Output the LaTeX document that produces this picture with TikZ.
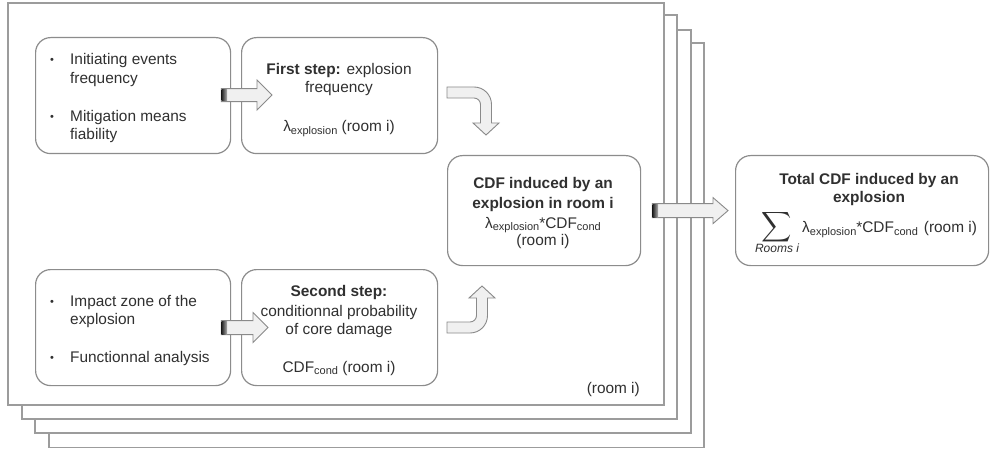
\documentclass[tikz,border=0pt]{standalone}
\usepackage{fontspec}
\setmainfont{Liberation Sans}
\usetikzlibrary{calc}
\definecolor{txt}{HTML}{303030}
\definecolor{boxline}{HTML}{8C8C8C}
\definecolor{pageline}{HTML}{9C9C9C}
\definecolor{arrfill}{HTML}{F0F0F0}
\definecolor{arrline}{HTML}{8A8A8A}
\newcommand\sub[1]{\raisebox{-2.5pt}{\fontsize{11}{11}\selectfont #1}}
\newcommand\blockarr[4]{%
  \draw[arrst] let \p1=(#1), \p2=(#2) in
    ({\x1},{\y1+#3}) -- ({\x2-15pt},{\y1+#3}) -- ({\x2-15pt},{\y1+#4}) -- ({\x2},{\y1})
    -- ({\x2-15pt},{\y1-#4}) -- ({\x2-15pt},{\y1-#3}) -- ({\x1},{\y1-#3}) -- cycle;
  \shade[left color=black!85, right color=black!30] let \p1=(#1) in
    ({\x1+0.5pt},{\y1-#3+0.6pt}) rectangle ({\x1+6pt},{\y1+#3-0.6pt});
}
\tikzset{
  page/.style={draw=pageline, line width=1.3pt, fill=white},
  rbox/.style={draw=boxline, line width=1.2pt, rounded corners=15pt, fill=white, inner sep=0pt, anchor=north west},
  lbl/.style={text=txt, font=\fontsize{15.4}{18}\selectfont, inner sep=0pt},
  bul/.style={text=txt, font=\fontsize{11}{11}\selectfont, inner sep=0pt, anchor=base},
  arrst/.style={draw=arrline, fill=arrfill, line width=0.9pt, line join=miter},
}
\begin{document}
\begin{tikzpicture}[x=1pt,y=-1pt]
\useasboundingbox (0,0) rectangle (990,449);
% stacked pages
\draw[page] (49,43) rectangle (704,447.5);
\draw[page] (35,30) rectangle (691,433);
\draw[page] (22,15) rectangle (677,419);
\draw[page] (8,3) rectangle (664,405);
\node[lbl, anchor=base east] (roomlbl) at (640,393) {(room i)};

% boxes
\node[rbox, minimum width=195pt, minimum height=116pt] (b1) at (35,37) {};
\node[rbox, minimum width=196pt, minimum height=116pt] (b2) at (241,37) {};
\node[rbox, minimum width=195pt, minimum height=116pt] (b3) at (35,269) {};
\node[rbox, minimum width=196pt, minimum height=116pt] (b4) at (241,269) {};
\node[rbox, minimum width=193pt, minimum height=110pt] (c) at (447,155) {};
\node[rbox, minimum width=253pt, minimum height=110pt] (t) at (735,155) {};

% box 1 text
\node[bul] (b1d1) at (52,64) {\textbullet};
\node[lbl, anchor=base west] (b1l1) at (70,65) {Initiating events};
\node[lbl, anchor=base west] (b1l2) at (70,84) {frequency};
\node[bul] (b1d2) at (52,121) {\textbullet};
\node[lbl, anchor=base west] (b1l3) at (70,122) {Mitigation means};
\node[lbl, anchor=base west] (b1l4) at (70,140) {fiability};

% box 2 text
\node[lbl, anchor=base] (b2l1) at (339,75) {\textbf{First step:} explosion};
\node[lbl, anchor=base] (b2l2) at (339,93) {frequency};
\node[lbl, anchor=base] (b2l3) at (339,132) {λ\sub{explosion} (room i)};

% box 3 text
\node[bul] (b3d1) at (52,305) {\textbullet};
\node[lbl, anchor=base west] (b3l1) at (70,306) {Impact zone of the};
\node[lbl, anchor=base west] (b3l2) at (70,324) {explosion};
\node[bul] (b3d2) at (52,361) {\textbullet};
\node[lbl, anchor=base west] (b3l3) at (70,362) {Functionnal analysis};

% box 4 text
\node[lbl, anchor=base] (b4l1) at (339,296) {\textbf{Second step:}};
\node[lbl, anchor=base] (b4l2) at (339,316) {conditionnal probability};
\node[lbl, anchor=base] (b4l3) at (339,334) {of core damage};
\node[lbl, anchor=base] (b4l4) at (339,372) {CDF\sub{cond} (room i)};

% centre box text
\node[lbl, anchor=base] (cl1) at (543,189) {\textbf{CDF induced by an}};
\node[lbl, anchor=base] (cl2) at (543,208) {\textbf{explosion in room i}};
\node[lbl, anchor=base] (cl3) at (543,228) {λ\sub{explosion}*CDF\sub{cond}};
\node[lbl, anchor=base] (cl4) at (543,245) {(room i)};

% total box text
\node[lbl, anchor=base] (tl1) at (869,185) {\textbf{Total CDF induced by an}};
\node[lbl, anchor=base] (tl2) at (869,203) {\textbf{explosion}};
\node[text=txt, inner sep=0pt] (tsum) at (777,227) {\scalebox{2.1}{$\displaystyle\sum$}};
\node[text=txt, inner sep=0pt, anchor=base, font=\fontsize{12}{12}\selectfont\rmfamily\itshape] (trooms) at (777,252) {Rooms i};
\node[lbl, anchor=base west] (tl3) at (802,233) {λ\sub{explosion}*CDF\sub{cond}\hspace{6pt}(room i)};

% straight block arrows
\blockarr{$(b1.east)+(-10,-0.5)$}{$(b2.west)+(31,-0.5)$}{6.5pt}{15pt}
\blockarr{$(b3.east)+(-10,0)$}{$(b4.west)+(27,0)$}{7pt}{15pt}
\blockarr{$(c.east)+(11,0)$}{$(t.west)+(-7,0)$}{7pt}{13pt}

% curved arrows
\coordinate (ca1) at (447,92.5);
\draw[arrst] (447,87) -- (474,87) .. controls (483.7,87) and (491.5,94.8) .. (491.5,104.5)
  -- (491.5,123) -- (499,123) -- (486,135) -- (473,123) -- (480.5,123) -- (480.5,104.5)
  .. controls (480.5,100.9) and (477.6,98) .. (474,98) -- (447,98) -- cycle;
\coordinate (ca2) at (447,327.5);
\draw[arrst] (447,333) -- (470,333) .. controls (479.7,333) and (487.5,325.2) .. (487.5,315.5)
  -- (487.5,298) -- (495,298) -- (482,286) -- (469,298) -- (476.5,298) -- (476.5,315.5)
  .. controls (476.5,319.1) and (473.6,322) .. (470,322) -- (447,322) -- cycle;
\end{tikzpicture}
\end{document}
